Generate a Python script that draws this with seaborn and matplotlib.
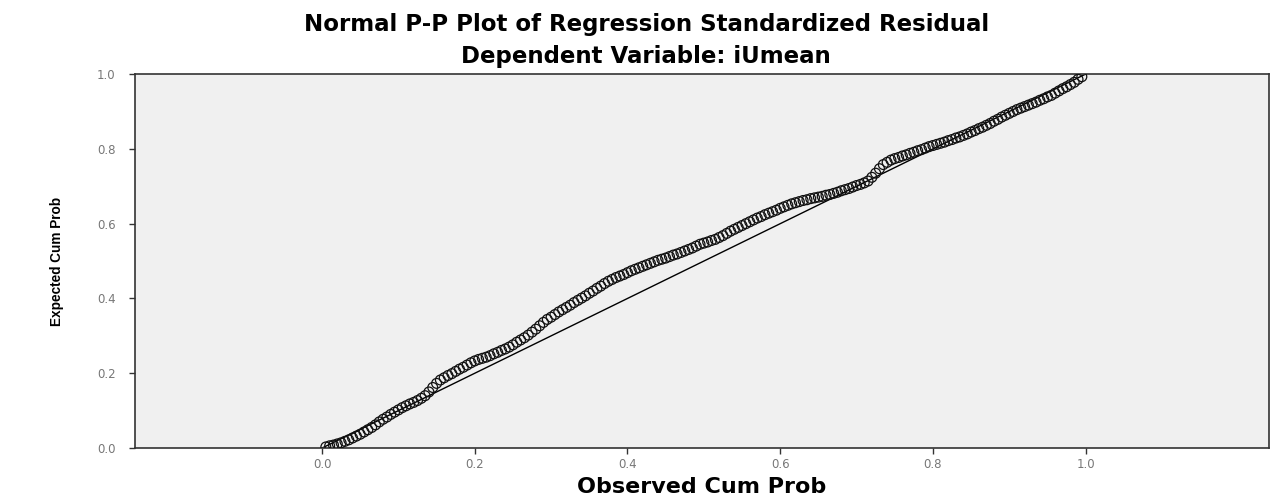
import matplotlib
matplotlib.use("Agg")
import matplotlib.pyplot as plt
import seaborn as sns
import pandas as pd

# ---- data ----
observed_a = [0.005, 0.015, 0.025, 0.035, 0.045, 0.055, 0.065, 0.075, 0.085, 0.095,
              0.105, 0.115, 0.125, 0.135, 0.145, 0.155, 0.165, 0.175, 0.185, 0.195,
              0.205, 0.215, 0.225, 0.235, 0.245, 0.255, 0.265, 0.275, 0.285, 0.295,
              0.305, 0.315, 0.325, 0.335, 0.345, 0.355, 0.365, 0.375, 0.385, 0.395,
              0.405, 0.415, 0.425, 0.435, 0.445, 0.455, 0.465, 0.475, 0.485, 0.495,
              0.505, 0.515, 0.525, 0.535, 0.545, 0.555, 0.565, 0.575, 0.585, 0.595,
              0.605, 0.615, 0.625, 0.635, 0.645, 0.655, 0.665, 0.675, 0.685, 0.695,
              0.705, 0.715, 0.725, 0.735, 0.745, 0.755, 0.765, 0.775, 0.785, 0.795,
              0.805, 0.815, 0.825, 0.835, 0.845, 0.855, 0.865, 0.875, 0.885, 0.895,
              0.905, 0.915, 0.925, 0.935, 0.945, 0.955, 0.965, 0.975, 0.985, 0.995]
expected_a = [0.003, 0.008, 0.014, 0.022, 0.032, 0.043, 0.055, 0.070, 0.083, 0.096,
              0.108, 0.118, 0.127, 0.140, 0.162, 0.182, 0.194, 0.205, 0.216, 0.228,
              0.237, 0.243, 0.252, 0.261, 0.270, 0.283, 0.295, 0.310, 0.327, 0.344,
              0.357, 0.370, 0.382, 0.395, 0.407, 0.420, 0.433, 0.446, 0.456, 0.464,
              0.474, 0.482, 0.490, 0.498, 0.505, 0.512, 0.519, 0.527, 0.535, 0.545,
              0.551, 0.558, 0.568, 0.580, 0.590, 0.600, 0.610, 0.619, 0.628, 0.636,
              0.645, 0.653, 0.659, 0.664, 0.669, 0.673, 0.678, 0.684, 0.691, 0.698,
              0.705, 0.714, 0.735, 0.758, 0.770, 0.777, 0.784, 0.791, 0.798, 0.806,
              0.812, 0.818, 0.825, 0.832, 0.840, 0.849, 0.858, 0.868, 0.879, 0.890,
              0.900, 0.909, 0.917, 0.925, 0.934, 0.943, 0.955, 0.966, 0.978, 0.993]
observed_b = [0.01, 0.02, 0.03, 0.04, 0.05, 0.06, 0.07, 0.08, 0.09, 0.10,
              0.11, 0.12, 0.13, 0.14, 0.15, 0.16, 0.17, 0.18, 0.19, 0.20,
              0.21, 0.22, 0.23, 0.24, 0.25, 0.26, 0.27, 0.28, 0.29, 0.30,
              0.31, 0.32, 0.33, 0.34, 0.35, 0.36, 0.37, 0.38, 0.39, 0.40,
              0.41, 0.42, 0.43, 0.44, 0.45, 0.46, 0.47, 0.48, 0.49, 0.50,
              0.51, 0.52, 0.53, 0.54, 0.55, 0.56, 0.57, 0.58, 0.59, 0.60,
              0.61, 0.62, 0.63, 0.64, 0.65, 0.66, 0.67, 0.68, 0.69, 0.70,
              0.71, 0.72, 0.73, 0.74, 0.75, 0.76, 0.77, 0.78, 0.79, 0.80,
              0.81, 0.82, 0.83, 0.84, 0.85, 0.86, 0.87, 0.88, 0.89, 0.90,
              0.91, 0.92, 0.93, 0.94, 0.95, 0.96, 0.97, 0.98, 0.99]
expected_b = [0.006, 0.011, 0.018, 0.027, 0.037, 0.049, 0.062, 0.077, 0.090, 0.102,
              0.113, 0.122, 0.133, 0.150, 0.173, 0.188, 0.199, 0.211, 0.222, 0.233,
              0.240, 0.247, 0.256, 0.265, 0.276, 0.289, 0.302, 0.318, 0.336, 0.350,
              0.364, 0.376, 0.389, 0.401, 0.414, 0.427, 0.440, 0.451, 0.460, 0.469,
              0.478, 0.486, 0.494, 0.502, 0.508, 0.516, 0.523, 0.531, 0.540, 0.548,
              0.555, 0.563, 0.574, 0.585, 0.595, 0.605, 0.615, 0.624, 0.632, 0.641,
              0.649, 0.656, 0.662, 0.667, 0.671, 0.676, 0.681, 0.688, 0.694, 0.702,
              0.709, 0.724, 0.747, 0.764, 0.774, 0.781, 0.788, 0.795, 0.802, 0.809,
              0.815, 0.822, 0.829, 0.836, 0.845, 0.854, 0.863, 0.874, 0.885, 0.895,
              0.905, 0.913, 0.921, 0.930, 0.939, 0.949, 0.961, 0.972, 0.986]
ref_line = [0.0, 1.0]
x_ticks = [0.0, 0.2, 0.4, 0.6, 0.8, 1.0]
y_ticks = [0.0, 0.2, 0.4, 0.6, 0.8, 1.0]
tick_labels = ["0.0", "0.2", "0.4", "0.6", "0.8", "1.0"]
title1 = "Normal P-P Plot of Regression Standardized Residual"
title2 = "Dependent Variable: iUmean"
xlabel = "Observed Cum Prob"
ylabel = "Expected Cum Prob"

df = pd.DataFrame({"observed": observed_a + observed_b,
                   "expected": expected_a + expected_b})

sns.set_style("ticks")
plt.rcParams["font.family"] = ["DejaVu Sans"]

fig = plt.figure(figsize=(12.85, 5.04), dpi=100)
fig.patch.set_facecolor("white")
ax = fig.add_axes([0.105, 0.111, 0.8825, 0.742])
ax.set_facecolor("#f0f0f0")

sns.lineplot(x=ref_line, y=ref_line, ax=ax, color="black", linewidth=1.0)
sns.scatterplot(data=df, x="observed", y="expected", ax=ax, marker="o", s=50,
                linewidth=0.9, zorder=3)
coll = ax.collections[-1]
coll.set_facecolor("none")
coll.set_edgecolor("#111111")

ax.set_xlim(-0.245, 1.24)
ax.set_ylim(0.0, 1.0)
ax.set_xticks(x_ticks)
ax.set_xticklabels(tick_labels)
ax.set_yticks(y_ticks)
ax.set_yticklabels(tick_labels)
ax.tick_params(axis="both", direction="out", length=4, width=1.0, colors="#333333",
               labelcolor="#777777", labelsize=8.5)
ax.tick_params(axis="y", pad=10)
for sp in ax.spines.values():
    sp.set_visible(True)
    sp.set_color("#333333")
    sp.set_linewidth(1.2)

ax.set_xlabel(xlabel, fontsize=16, fontweight="bold", labelpad=4, color="black")
ax.set_ylabel(ylabel, fontsize=9.8, fontweight="bold", family=["Liberation Sans"],
              labelpad=24, color="black")

fig.text(0.503, 0.952, title1, ha="center", va="center", fontsize=16.5,
         fontweight="bold", color="black")
fig.text(0.503, 0.887, title2, ha="center", va="center", fontsize=16.5,
         fontweight="bold", color="black")

fig.savefig("out.png", dpi=100, facecolor="white")
